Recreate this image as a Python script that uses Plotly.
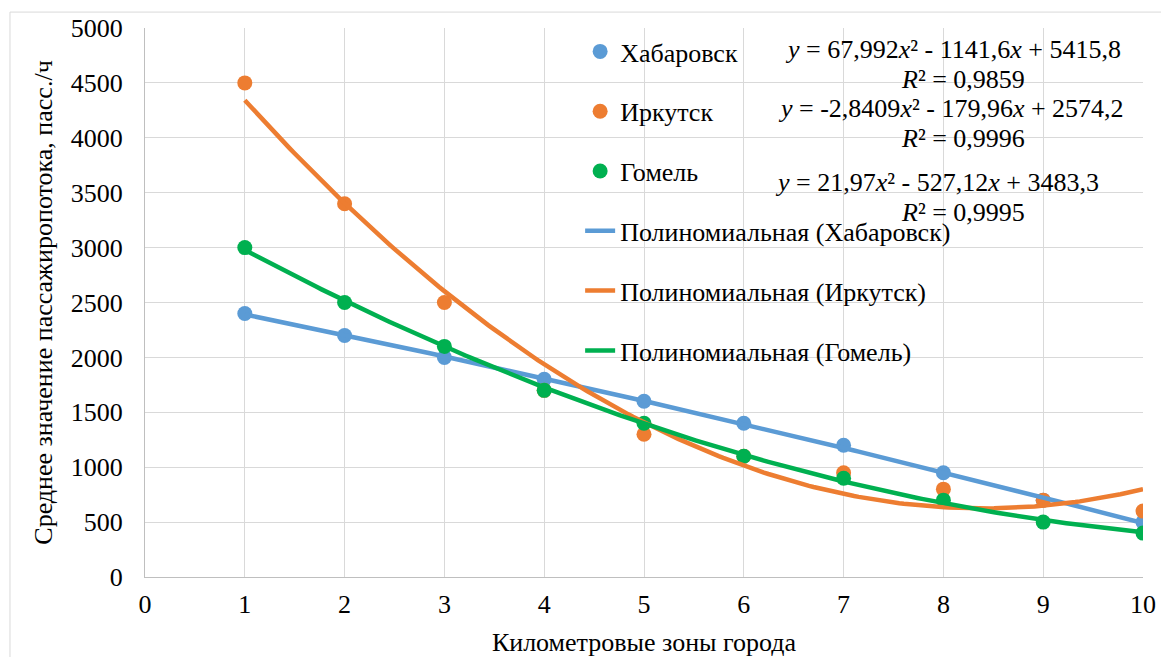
import numpy as np
import plotly.graph_objects as go

zones = [1, 2, 3, 4, 5, 6, 7, 8, 9, 10]
khabarovsk = [2400, 2200, 2000, 1800, 1600, 1400, 1200, 950, 700, 500]
irkutsk = [4500, 3400, 2500, 1700, 1300, 1100, 950, 800, 700, 600]
gomel = [3000, 2500, 2100, 1700, 1400, 1100, 900, 700, 500, 400]

series_names = ["Хабаровск", "Иркутск", "Гомель"]
colors = ["#5B9BD5", "#ED7D31", "#00B050"]

eq_texts = [
    "<i>y</i> = 67,992<i>x</i>² - 1141,6<i>x</i> + 5415,8",
    "<i>y</i> = -2,8409<i>x</i>² - 179,96<i>x</i> + 2574,2",
    "<i>y</i> = 21,97<i>x</i>² - 527,12<i>x</i> + 3483,3",
]
r2_texts = ["<i>R</i>² = 0,9859", "<i>R</i>² = 0,9996", "<i>R</i>² = 0,9995"]
eq_pos = [(8.1, 4800), (8.08, 4270), (7.94, 3590)]
r2_pos = [(8.2, 4530), (8.2, 3990), (8.2, 3320)]

FONT = "Times New Roman, Liberation Serif, Tinos, serif"
fs = 26

fig = go.Figure()
data = [khabarovsk, irkutsk, gomel]
for i, (name, vals) in enumerate(zip(series_names, data)):
    fig.add_trace(go.Scatter(
        x=zones, y=vals, mode="markers", name=name,
        marker=dict(color=colors[i], size=15),
        legendgroup="g%d" % i,
    ))

xs = np.linspace(min(zones), max(zones), 200)
for i, (name, vals) in enumerate(zip(series_names, data)):
    coef = np.polyfit(zones, vals, 2)
    fig.add_trace(go.Scatter(
        x=xs, y=np.polyval(coef, xs), mode="lines",
        name="Полиномиальная (%s)" % name,
        line=dict(color=colors[i], width=4.5),
        legendgroup="t%d" % i,
    ))

for t, (x, y) in zip(eq_texts, eq_pos):
    fig.add_annotation(x=x, y=y, text=t, showarrow=False,
                       font=dict(family=FONT, size=fs, color="#000000"))
for t, (x, y) in zip(r2_texts, r2_pos):
    fig.add_annotation(x=x, y=y, text=t, showarrow=False,
                       font=dict(family=FONT, size=fs, color="#000000"))

fig.add_shape(type="rect", xref="paper", yref="paper",
              x0=-0.1353, x1=1.1, y0=-0.3, y1=1.029,
              line=dict(color="#d9d9d9", width=1), layer="below")

fig.update_layout(
    width=1161, height=657,
    margin=dict(l=145, r=18, t=28, b=80, autoexpand=False),
    paper_bgcolor="white", plot_bgcolor="white",
    font=dict(family=FONT, size=fs, color="#000000"),
    showlegend=True,
    legend=dict(x=0.436, y=1.0, xanchor="left", yanchor="top",
                bgcolor="rgba(0,0,0,0)", tracegroupgap=23,
                font=dict(family=FONT, size=fs, color="#000000")),
    xaxis=dict(range=[0, 10], dtick=1, tick0=0, automargin=False,
               showgrid=True, gridcolor="#d9d9d9", gridwidth=1,
               showline=True, linecolor="#bfbfbf", linewidth=1,
               zeroline=False, ticks="", ticklabelstandoff=4,
               title=dict(text="Километровые зоны города", standoff=24,
                          font=dict(family=FONT, size=fs)),
               tickfont=dict(family=FONT, size=fs)),
    yaxis=dict(range=[0, 5000], dtick=500, tick0=0, automargin=False,
               showgrid=True, gridcolor="#d9d9d9", gridwidth=1,
               showline=True, linecolor="#bfbfbf", linewidth=1,
               zeroline=False, ticks="", ticklabelstandoff=16,
               title=dict(text="Среднее значение пассажиропотока, пасс./ч", standoff=10,
                          font=dict(family=FONT, size=fs)),
               tickfont=dict(family=FONT, size=fs)),
)

fig.write_html("out.html", config={"displayModeBar": False},
               post_script="document.body.style.margin='0px';")
